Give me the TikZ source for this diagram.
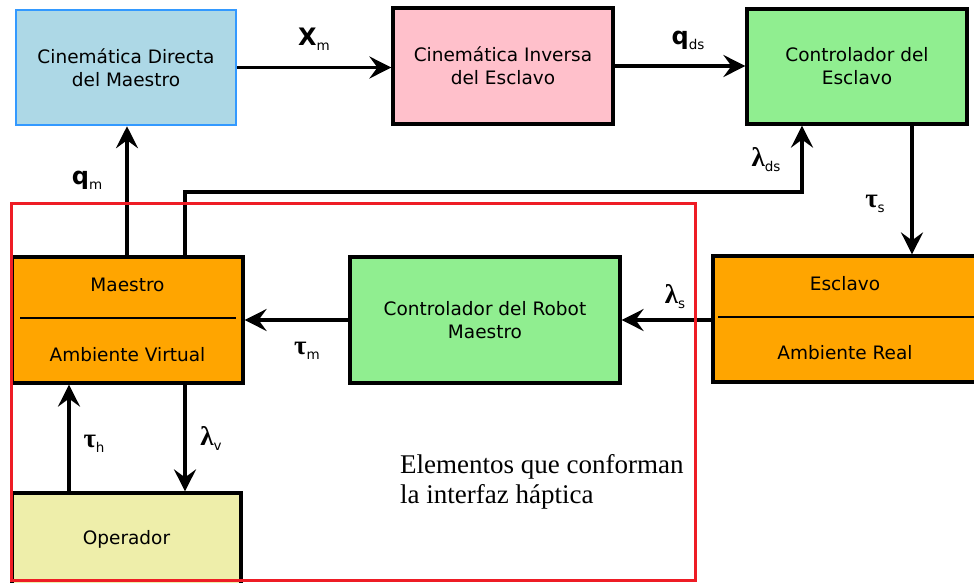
\documentclass[tikz,border=0pt]{standalone}
\usepackage{fontspec}
\setmainfont{DejaVu Sans}
\newfontfamily\serifsym{Liberation Serif}
\newfontfamily\sansbox{DejaVu Sans}
\usetikzlibrary{arrows.meta}
\definecolor{cblue}{HTML}{ADD8E6}
\definecolor{cblueb}{HTML}{3399FF}
\definecolor{cpink}{HTML}{FFC0CB}
\definecolor{cgreen}{HTML}{90EE90}
\definecolor{corange}{HTML}{FFA500}
\definecolor{cyellow}{HTML}{EEEEAA}
\definecolor{cred}{HTML}{EE1C25}
\newcommand\symB[2]{{\sansbox\bfseries\fontsize{24}{24}\selectfont #1}{\sansbox\fontsize{13.5}{13.5}\selectfont\raisebox{-5pt}{#2}}}
\newcommand\symG[2]{{\serifsym\bfseries\fontsize{27}{27}\selectfont #1}{\sansbox\fontsize{13.5}{13.5}\selectfont\raisebox{-5pt}{#2}}}
\begin{document}
\begin{tikzpicture}[x=1pt,y=-1pt,
  blk/.style={draw=black,line width=3.2pt,align=center,inner sep=0pt,
    font=\sansbox\fontsize{18.5}{23}\selectfont},
  txt/.style={inner sep=0pt,font=\sansbox\fontsize{18.5}{23}\selectfont},
  arr/.style={line width=3.2pt,-{Stealth[length=22pt,width=22pt,inset=8pt]}},
  lab/.style={inner sep=0pt}]
\useasboundingbox (0,0) rectangle (974,582);
\clip (0,0) rectangle (974,582);
% blocks
\node[blk,draw=cblueb,line width=2.5pt,fill=cblue,minimum width=220pt,minimum height=115pt] (cdm) at (126,67.5) {Cinemática Directa\\del Maestro};
\node[blk,fill=cpink,minimum width=220pt,minimum height=116pt] (cie) at (503,66) {Cinemática Inversa\\del Esclavo};
\node[blk,fill=cgreen,minimum width=220pt,minimum height=115pt] (ce) at (857,66.5) {Controlador del\\Esclavo};
\node[blk,fill=corange,minimum width=231pt,minimum height=126pt] (mav) at (127.5,320) {};
\node[blk,fill=cgreen,minimum width=270pt,minimum height=126pt] (crm) at (485,320) {Controlador del Robot\\Maestro};
\node[blk,fill=corange,minimum width=265pt,minimum height=126pt] (esc) at (845.5,319) {};
\node[blk,fill=cyellow,minimum width=229pt,minimum height=92pt] (op) at (126.5,539) {Operador};
% texts inside split blocks
\node[txt] (mavt) at (127.5,285) {Maestro};
\node[txt] (mavb) at (127.5,355) {Ambiente Virtual};
\draw[line width=1.2pt] (20,318) -- (236,318);
\node[txt] (esct) at (845,284) {Esclavo};
\node[txt] (escb) at (845,353) {Ambiente Real};
\draw[line width=1.2pt] (718,317) -- (976,317);
% helper coordinates
\coordinate (xts) at (912,0);
\coordinate (xqm) at (127,0);
\coordinate (xfb) at (185,0);
\coordinate (fbc) at (802,192);
\coordinate (xth) at (69,0);
% connectors
\draw[arr] (cdm.east) -- (cdm.east -| cie.west);
\draw[arr] (cie.east) -- (cie.east -| ce.west);
\draw[arr] (ce.south -| xts) -- (esc.north -| xts);
\draw[arr] (esc.west |- crm.east) -- (crm.east);
\draw[arr] (crm.west) -- (mav.east);
\draw[arr] (mav.north -| xqm) -- (cdm.south -| xqm);
\draw[arr] (mav.north -| xfb) |- (fbc) -- (ce.south -| fbc);
\draw[arr] (op.north -| xth) -- (mav.south -| xth);
\draw[arr] (mav.south -| xfb) -- (op.north -| xfb);
% labels
\node[lab] (lxm) at (314,39) {\symB{X}{m}};
\node[lab] (lqds) at (688,40) {\symB{q}{ds}};
\node[lab] (llds) at (766,160) {\symG{λ}{ds}};
\node[lab] (lts) at (875,204) {\symG{τ}{s}};
\node[lab] (lqm) at (87,180) {\symB{q}{m}};
\node[lab] (ltm) at (307,351) {\symG{τ}{m}};
\node[lab] (lls) at (675,297) {\symG{λ}{s}};
\node[lab] (lth) at (94,444) {\symG{τ}{h}};
\node[lab] (llv) at (211,438) {\symG{λ}{v}};
% red frame
\draw[cred,line width=3pt] (11,203) rectangle (695,580);
\node[anchor=north west,inner sep=0pt,align=left,font=\serifsym\fontsize{27}{30}\selectfont] (elem) at (400,454) {Elementos que conforman\\la interfaz háptica};
\end{tikzpicture}
\end{document}
